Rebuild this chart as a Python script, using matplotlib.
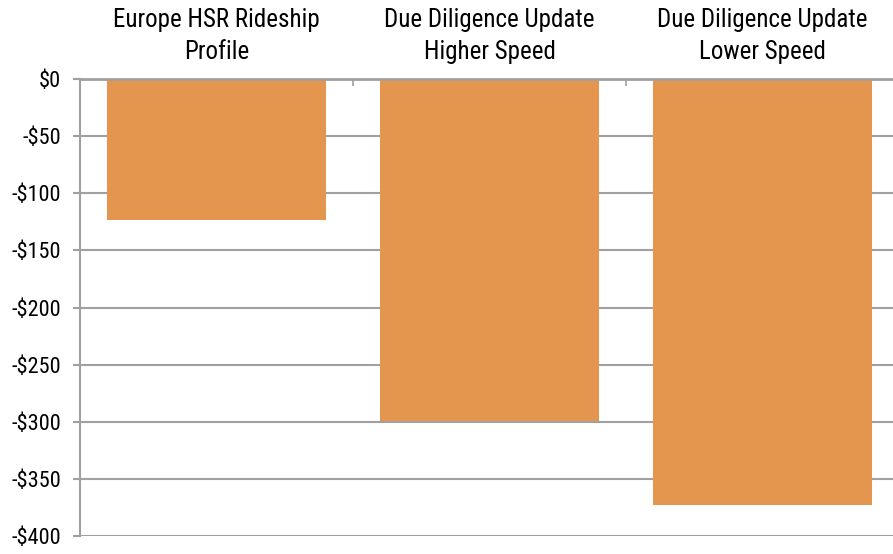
import matplotlib
matplotlib.use("Agg")
import matplotlib.pyplot as plt
from matplotlib import font_manager
from matplotlib.ticker import FuncFormatter

categories = ["Europe HSR Rideship\nProfile",
              "Due Diligence Update\nHigher Speed",
              "Due Diligence Update\nLower Speed"]
values = [-123, -299, -373]
y_ticks = [0, -50, -100, -150, -200, -250, -300, -350, -400]

font = "DejaVu Sans"
for name in ["Roboto Condensed", "Liberation Sans Narrow", "Roboto"]:
    try:
        font_manager.findfont(name, fallback_to_default=False)
        font = name
        break
    except ValueError:
        pass
plt.rcParams["font.family"] = [font, "DejaVu Sans"]

bar_color = "#E4964F"
grid_color = "#A0A0A0"

fig = plt.figure(figsize=(8.93, 5.54), dpi=100)
ax = fig.add_axes([80 / 893, (554 - 536) / 554, 819 / 893, (536 - 79) / 554])

x = list(range(len(categories)))
ax.bar(x, values, width=0.8, color=bar_color, zorder=3)

ax.set_xlim(-0.5, len(categories) - 0.5)
ax.set_ylim(-400, 0)
ax.set_yticks(y_ticks)
ax.yaxis.set_major_formatter(FuncFormatter(
    lambda v, p: "$0" if v == 0 else "-${:.0f}".format(abs(v))))
ax.yaxis.grid(True, color=grid_color, linewidth=1.5, zorder=0)

# category labels sit above the zero line
ax.xaxis.tick_top()
ax.set_xticks(x)
ax.set_xticklabels(categories, fontsize=18, linespacing=1.42)
ax.set_xticks([0.5, 1.5], minor=True)
ax.tick_params(axis="x", which="major", length=0, pad=11)
ax.tick_params(axis="x", which="minor", top=True, direction="in",
               length=5, width=1.2, color=grid_color)
ax.tick_params(axis="y", labelsize=16, length=5, width=1.5,
               color=grid_color, pad=8.5)

for side in ["right", "bottom"]:
    ax.spines[side].set_visible(False)
ax.spines["left"].set_color(grid_color)
ax.spines["left"].set_linewidth(1.5)
ax.spines["top"].set_color(grid_color)
ax.spines["top"].set_linewidth(2)
ax.spines["top"].set_zorder(4)

fig.savefig("out.png", dpi=100)
